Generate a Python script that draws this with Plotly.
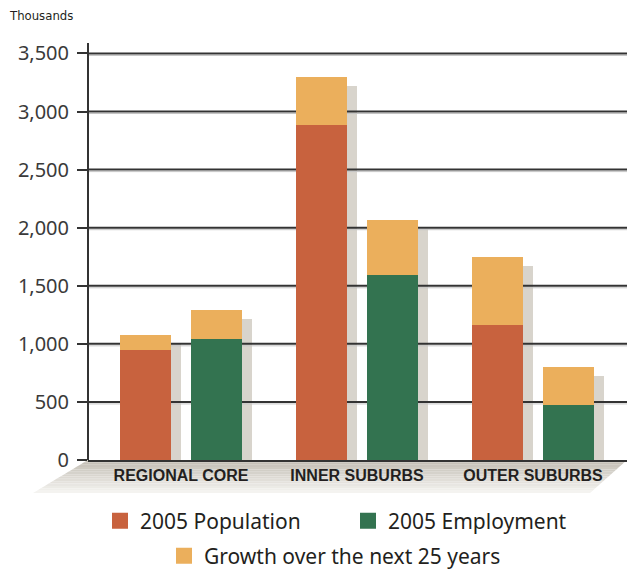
import plotly.graph_objects as go

# ---- data (thousands) ----
categories = ["REGIONAL CORE", "INNER SUBURBS", "OUTER SUBURBS"]
population_2005 = [945, 2880, 1165]
population_growth = [135, 420, 585]
employment_2005 = [1040, 1590, 470]
employment_growth = [250, 480, 330]
y_ticks = [0, 500, 1000, 1500, 2000, 2500, 3000, 3500]
series_names = ["2005 Population", "2005 Employment", "Growth over the next 25 years"]

# ---- style ----
C_POP = "#c8623e"
C_EMP = "#337350"
C_GROW = "#ebaf5c"
C_SHADOW = "#d8d4cc"
C_TEXT = "#231f20"
C_LINE = "#333333"

W, H = 627, 570
ML, MR, MT, MB = 88, 0, 43, 110
PW, PH = W - ML - MR, H - MT - MB
Y_MAX = 3590
U = Y_MAX / PH          # data units per pixel (y)
XU = 176.0              # pixels per category step
X_RANGE = [(ML - 181) / XU, (W - 181) / XU]

BAR_W = 51 / XU
OFF_POP = -61 / XU
OFF_EMP = 10 / XU
SH_DX = 10 / XU
SH_DROP = 9 * U
SH_BELOW = 8 * U

xs = list(range(len(categories)))
pop_total = [a + b for a, b in zip(population_2005, population_growth)]
emp_total = [a + b for a, b in zip(employment_2005, employment_growth)]

fig = go.Figure()

# shadows (xy)
for totals, off in ((pop_total, OFF_POP), (emp_total, OFF_EMP)):
    fig.add_trace(go.Bar(
        x=xs, y=[t - SH_DROP + SH_BELOW for t in totals], base=[-SH_BELOW] * len(xs),
        offset=off + SH_DX, width=BAR_W, marker=dict(color=C_SHADOW, line=dict(width=0)),
        showlegend=False, hoverinfo="skip", cliponaxis=False, xaxis="x", yaxis="y"))

# gridlines (scatter, drawn above shadows)
for v in y_ticks[1:]:
    fig.add_trace(go.Scatter(x=X_RANGE, y=[v - 2 * U, v - 2 * U], mode="lines",
                             line=dict(color="#c4c4c4", width=1), showlegend=False,
                             hoverinfo="skip", xaxis="x", yaxis="y"))
    fig.add_trace(go.Scatter(x=X_RANGE, y=[v, v], mode="lines",
                             line=dict(color=C_LINE, width=2), showlegend=False,
                             hoverinfo="skip", xaxis="x", yaxis="y"))

# main bars (x2y2 overlay)
bar_specs = [
    (population_2005, [0] * 3, OFF_POP, C_POP),
    (population_growth, population_2005, OFF_POP, C_GROW),
    (employment_2005, [0] * 3, OFF_EMP, C_EMP),
    (employment_growth, employment_2005, OFF_EMP, C_GROW),
]
for vals, base, off, col in bar_specs:
    fig.add_trace(go.Bar(x=xs, y=vals, base=base, offset=off, width=BAR_W,
                         marker=dict(color=col, line=dict(width=0)),
                         showlegend=False, xaxis="x2", yaxis="y2"))

# legend entries (one legend per entry to mimic the 2+1 centred layout)
legend_specs = [(series_names[0], C_POP, "legend"),
                (series_names[1], C_EMP, "legend3"),
                (series_names[2], C_GROW, "legend2")]
for name, col, lg in legend_specs:
    fig.add_trace(go.Scatter(x=[None], y=[None], mode="markers", name=name,
                             marker=dict(symbol="square", size=18, color=col),
                             legend=lg, xaxis="x2", yaxis="y2"))

# floor (gradient bands)
def px2paper(px, py):
    return (px - ML) / PW, (MT + PH - py) / PH

top_y, bot_y = MT + PH, 493
tl, tr, bl, br = 88, 627, 33, 590
n = 14
c0 = (192, 187, 177)
c1 = (246, 245, 242)
shapes = []
for i in range(n):
    t0, t1 = i / n, (i + 1) / n
    pts = []
    for (t, side) in ((t0, "l"), (t0, "r"), (t1, "r"), (t1, "l")):
        xl = tl + (bl - tl) * t
        xr = tr + (br - tr) * t
        yy = top_y + (bot_y - top_y) * t
        pts.append(px2paper(xl if side == "l" else xr, yy))
    path = "M" + " L".join(f"{x:.5f},{y:.5f}" for x, y in pts) + " Z"
    tm = (i + 0.5) / n
    col = tuple(round(c0[k] + (c1[k] - c0[k]) * tm) for k in range(3))
    shapes.append(dict(type="path", path=path, xref="paper", yref="paper", layer="below",
                       fillcolor=f"rgb{col}", line=dict(width=0)))
# y axis line (stops at baseline)
shapes.append(dict(type="line", xref="paper", yref="y", x0=0, x1=0, y0=0, y1=Y_MAX,
                   line=dict(color=C_LINE, width=2), layer="above"))

def legend_box(px_left, py_mid):
    return dict(orientation="h", x=(px_left - ML) / PW, xanchor="left",
                y=-(py_mid - (MT + PH)) / PH, yanchor="middle",
                font=dict(family="Noto Sans", size=21, color=C_TEXT),
                bgcolor="rgba(0,0,0,0)", borderwidth=0)

ax_common = dict(range=X_RANGE, showgrid=False, zeroline=False, fixedrange=True)
fig.update_layout(
    width=W, height=H,
    margin=dict(l=ML, r=MR, t=MT, b=MB, pad=0, autoexpand=False),
    paper_bgcolor="white", plot_bgcolor="rgba(0,0,0,0)",
    barmode="overlay", bargap=0,
    shapes=shapes,
    xaxis=dict(**ax_common, tickvals=xs, ticktext=categories, ticks="",
               showline=True, linecolor=C_LINE, linewidth=2,
               tickfont=dict(family="Liberation Sans", size=16, color=C_TEXT, weight="bold"),
               ticklabelstandoff=0),
    yaxis=dict(range=[0, Y_MAX], tickvals=y_ticks, tickformat=",", showgrid=False,
               zeroline=False, showline=False, ticks="outside", ticklen=10, tickwidth=2,
               tickcolor=C_LINE, ticklabelstandoff=4,
               tickfont=dict(family="Noto Sans", size=20, color="#3a3a3a"), fixedrange=True),
    xaxis2=dict(**ax_common, overlaying="x", visible=False, matches="x"),
    yaxis2=dict(range=[0, Y_MAX], overlaying="y", visible=False, fixedrange=True),
    legend=legend_box(100, 521),
    legend3=legend_box(348, 521),
    legend2=legend_box(164, 556),
    annotations=[dict(text="Thousands", xref="paper", yref="paper",
                      x=-(ML - 7) / PW, y=(MT + PH - 16) / PH, xanchor="left", yanchor="middle",
                      showarrow=False,
                      font=dict(family="DejaVu Sans Condensed, Roboto", size=13, color=C_TEXT))],
)

fig.write_html("out.html")
